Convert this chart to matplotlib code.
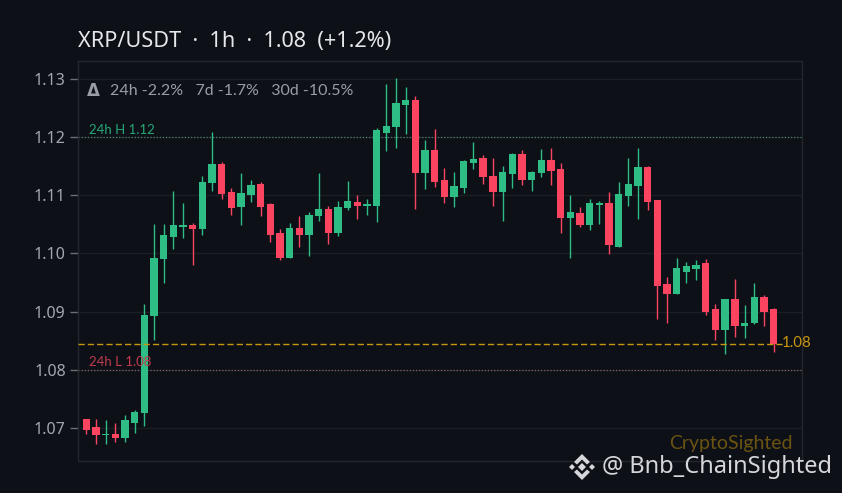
#!/usr/bin/env python3
import matplotlib
matplotlib.use("Agg")
import matplotlib.pyplot as plt
from matplotlib.patches import Polygon

W = 842
H = 493
BG = "#0d1017"
UP = "#2dbd85"
DOWN = "#fb4560"
GOLD = "#c9970f"

# hourly candles
opens = [1.0716, 1.0701, 1.0687, 1.0690, 1.0682, 1.0709, 1.0725, 1.0892, 1.0990, 1.1028, 1.1045, 1.1049,
         1.1042, 1.1121, 1.1154, 1.1105, 1.1080, 1.1100, 1.1119, 1.1085, 1.1035, 1.0993, 1.1043, 1.1031,
         1.1064, 1.1076, 1.1036, 1.1078, 1.1088, 1.1081, 1.1081, 1.1207, 1.1217, 1.1255, 1.1264, 1.1138,
         1.1178, 1.1126, 1.1097, 1.1112, 1.1155, 1.1164, 1.1133, 1.1105, 1.1136, 1.1171, 1.1126, 1.1138,
         1.1160, 1.1145, 1.1061, 1.1069, 1.1049, 1.1083, 1.1086, 1.1012, 1.1098, 1.1116, 1.1148, 1.1092,
         1.0947, 1.0931, 1.0969, 1.0973, 1.0983, 1.0904, 1.0868, 1.0921, 1.0876, 1.0880, 1.0926, 1.0904]
highs = [1.0716, 1.0716, 1.0714, 1.0708, 1.0723, 1.0730, 1.0913, 1.1050, 1.1050, 1.1107, 1.1086, 1.1052,
         1.1133, 1.1209, 1.1157, 1.1112, 1.1138, 1.1126, 1.1123, 1.1086, 1.1042, 1.1052, 1.1064, 1.1071,
         1.1138, 1.1081, 1.1090, 1.1124, 1.1100, 1.1093, 1.1216, 1.1291, 1.1302, 1.1286, 1.1271, 1.1195,
         1.1214, 1.1147, 1.1140, 1.1160, 1.1191, 1.1169, 1.1164, 1.1150, 1.1173, 1.1178, 1.1141, 1.1179,
         1.1181, 1.1155, 1.1100, 1.1080, 1.1093, 1.1090, 1.1105, 1.1123, 1.1164, 1.1181, 1.1150, 1.1092,
         1.0959, 1.0993, 1.0985, 1.0988, 1.0990, 1.0913, 1.0921, 1.0956, 1.0911, 1.0949, 1.0928, 1.0906]
lows = [1.0690, 1.0673, 1.0673, 1.0675, 1.0675, 1.0692, 1.0704, 1.0852, 1.0949, 1.1007, 1.1026, 1.0980,
        1.1031, 1.1107, 1.1093, 1.1067, 1.1049, 1.1088, 1.1064, 1.1019, 1.0988, 1.0992, 1.1011, 1.0995,
        1.1055, 1.1016, 1.1030, 1.1074, 1.1059, 1.1067, 1.1054, 1.1176, 1.1181, 1.1205, 1.1076, 1.1111,
        1.1114, 1.1086, 1.1080, 1.1104, 1.1145, 1.1119, 1.1081, 1.1055, 1.1112, 1.1117, 1.1107, 1.1131,
        1.1117, 1.1035, 1.0993, 1.1045, 1.1040, 1.1050, 1.0999, 1.1011, 1.1081, 1.1059, 1.1074, 1.0887,
        1.0880, 1.0930, 1.0950, 1.0954, 1.0895, 1.0851, 1.0828, 1.0856, 1.0854, 1.0878, 1.0875, 1.0830]
closes = [1.0697, 1.0687, 1.0690, 1.0682, 1.0713, 1.0727, 1.0895, 1.0992, 1.1031, 1.1049, 1.1049, 1.1042,
          1.1123, 1.1154, 1.1102, 1.1078, 1.1104, 1.1117, 1.1080, 1.1031, 1.0993, 1.1043, 1.1031, 1.1067,
          1.1076, 1.1036, 1.1080, 1.1090, 1.1081, 1.1085, 1.1212, 1.1219, 1.1259, 1.1264, 1.1138, 1.1178,
          1.1123, 1.1097, 1.1116, 1.1159, 1.1162, 1.1131, 1.1105, 1.1140, 1.1171, 1.1126, 1.1140, 1.1160,
          1.1141, 1.1061, 1.1071, 1.1049, 1.1086, 1.1086, 1.1014, 1.1102, 1.1119, 1.1148, 1.1088, 1.0944,
          1.0931, 1.0975, 1.0978, 1.0981, 1.0900, 1.0869, 1.0921, 1.0876, 1.0881, 1.0926, 1.0900, 1.0844]

yticks = [1.07, 1.08, 1.09, 1.10, 1.11, 1.12, 1.13]
last_price = 1.0844
high_24h = 1.12
low_24h = 1.08

plt.rcParams["font.family"] = ["Noto Sans", "DejaVu Sans"]

fig = plt.figure(figsize=[W / 100, H / 100], dpi=100, facecolor=BG)
ax = fig.add_axes([77.5 / W, 1 - 460.5 / H, (802 - 77.5) / W, (460.5 - 61) / H], facecolor=BG)

idx = list(range(len(opens)))
colors = [UP if c >= o else DOWN for o, c in zip(opens, closes)]
bottoms = [min(o, c) for o, c in zip(opens, closes)]
heights = [abs(c - o) for o, c in zip(opens, closes)]

ax.vlines(idx, lows, highs, colors=colors, linewidth=1.0, zorder=3)
ax.bar(idx, heights, bottom=bottoms, width=0.76, color=colors, linewidth=0, zorder=4)

ax.set_xlim(-0.91, 73.94)
ax.set_ylim(1.0644, 1.1331)
ax.set_xticks([])
ax.set_yticks(yticks)
ax.set_yticklabels(["%.2f" % v for v in yticks], fontsize=11.5, color="#a4a7ad")
ax.tick_params(axis="y", length=5.5, width=1.0, color="#6a6d74", pad=3)
ax.grid(axis="y", color="#1b1e25", linewidth=1.0, zorder=0)
for s in ax.spines.values():
    s.set_color("#23262d")
    s.set_linewidth(1.0)

ax.axhline(high_24h, color="#4c7f6b", linewidth=0.9, linestyle=(0, (1, 1.5)), zorder=2)
ax.axhline(low_24h, color="#86606b", linewidth=0.9, linestyle=(0, (1, 1.5)), zorder=2)
ax.plot([-0.91, 72.0], [last_price, last_price], color=GOLD, linewidth=1.0, linestyle=(0, (4.5, 2.2)), zorder=5)


def px_text(x, y, s, **kw):
    fig.text(x / W, 1 - y / H, s, va="center", **kw)


px_text(78, 41, "XRP/USDT  ·  1h  ·  1.08  (+1.2%)", fontsize=15.6, color="#e6e7ea")
px_text(87, 91, "Δ", fontsize=12, color="#9a9da3", fontweight="bold", family="DejaVu Sans")
px_text(110, 91, "24h -2.2%   7d -1.7%   30d -10.5%", fontsize=11.5, color="#9a9da3", family="Lato")
px_text(89, 130.5, "24h H 1.12", fontsize=9.5, color="#26a878", family="Lato")
px_text(89, 362.5, "24h L 1.08", fontsize=9.5, color="#c03c50", family="Lato")
px_text(782, 343, "1.08", fontsize=10.8, color=GOLD, family="Lato")
px_text(669, 444, "CryptoSighted", fontsize=14, color="#6b5311", family="Lato")
px_text(602, 467, "@ Bnb_ChainSighted", fontsize=17, color="#d6d7da")


# logo of the watermark, in pixels of the figure
def logo_part(points):
    xy = [((582 + dx) / W, 1 - (467 + dy) / H) for dx, dy in points]
    fig.add_artist(Polygon(xy, closed=True, transform=fig.transFigure, facecolor="#d6d7da", edgecolor="none"))


logo_part([(0, -4), (4, 0), (0, 4), (-4, 0)])
logo_part([(-13, 0), (-10, -3), (-7, 0), (-10, 3)])
logo_part([(13, 0), (10, -3), (7, 0), (10, 3)])
logo_part([(0, -13), (8, -5), (5, -2.5), (0, -7.5), (-5, -2.5), (-8, -5)])
logo_part([(0, 13), (8, 5), (5, 2.5), (0, 7.5), (-5, 2.5), (-8, 5)])

plt.savefig("out.png", dpi=100, facecolor=BG)
